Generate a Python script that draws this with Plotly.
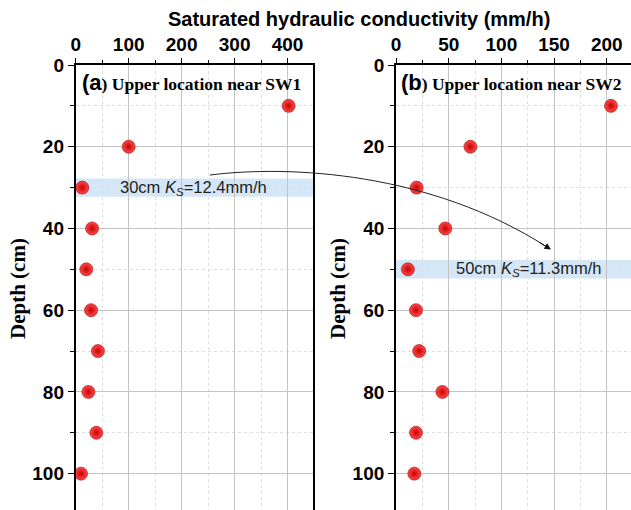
import plotly.graph_objects as go

# ---- data ----
depth = [10, 20, 30, 40, 50, 60, 70, 80, 90, 100]
ks_sw1 = [402, 100, 12.4, 31, 20, 29, 42, 24, 39, 10]
ks_sw2 = [204, 70.6, 19.6, 46.8, 11.3, 19, 22, 44, 19, 17.4]
x_ticks_sw1 = [0, 100, 200, 300, 400]
x_ticks_sw2 = [0, 50, 100, 150, 200]
y_ticks = [0, 20, 40, 60, 80, 100]
highlight_depth = [30, 50]
highlight_ks = [12.4, 11.3]
panel_labels = [("(a", ") Upper location near SW1"), ("(b", ") Upper location near SW2")]

W, H = 631, 510
def px(x, y):
    return x / W, 1 - y / H

SANS = "Liberation Sans, Arial, sans-serif"
SERIF = "Liberation Serif, Times New Roman, serif"

fig = go.Figure()

marker = dict(size=13, color="#ff4a4a", line=dict(color="#a00000", width=0.6),
              gradient=dict(type="radial", color="#c80000"))
fig.add_trace(go.Scatter(x=ks_sw1, y=depth, mode="markers", marker=marker,
                         xaxis="x", yaxis="y", showlegend=False))
fig.add_trace(go.Scatter(x=ks_sw2, y=depth, mode="markers", marker=marker,
                         xaxis="x2", yaxis="y2", showlegend=False))

ytop = 1 - 65 / H
dom1 = [75.7 / W, 313 / W]
dom2 = [396 / W, 1.0]

def xax(dom, rng, ticks, minor, anchor):
    return dict(domain=dom, range=rng, side="top", anchor=anchor,
                tickvals=ticks, ticks="outside", ticklen=5, tickwidth=1.2, tickcolor="black",
                showline=True, linecolor="black", linewidth=1.6, mirror=False,
                showgrid=True, gridcolor="#c4c4c4", gridwidth=1,
                tickfont=dict(family=SANS, size=19, color="black", weight="bold"),
                minor=dict(dtick=minor, ticks="outside", ticklen=3, tickcolor="black",
                           showgrid=True, gridcolor="#dedede", griddash="dot"),
                zeroline=False, automargin=False, fixedrange=True)

def yax(anchor):
    return dict(domain=[0, ytop], range=[108.9, 0], anchor=anchor,
                tickvals=y_ticks, ticks="outside", ticklen=6, tickwidth=1.2, tickcolor="black",
                showline=True, linecolor="black", linewidth=1.8, mirror=True,
                showgrid=True, gridcolor="#c4c4c4", gridwidth=1,
                tickfont=dict(family=SANS, size=19, color="black", weight="bold"),
                minor=dict(dtick=10, ticks="outside", ticklen=4, tickcolor="black",
                           showgrid=True, gridcolor="#dedede", griddash="dot"),
                zeroline=False, automargin=False, fixedrange=True)

fig.update_layout(
    width=W, height=H, margin=dict(l=0, r=0, t=0, b=0),
    paper_bgcolor="white", plot_bgcolor="white",
    xaxis=xax(dom1, [0, 448], x_ticks_sw1, 50, "y"),
    yaxis=yax("x"),
    xaxis2=xax(dom2, [0, 223], x_ticks_sw2, 25, "y2"),
    yaxis2=yax("x2"),
)

# highlight bands
for d, xr, yr in zip(highlight_depth, ["x", "x2"], ["y", "y2"]):
    fig.add_shape(type="rect", xref=f"{xr} domain", yref=yr, x0=0, x1=1,
                  y0=d - 2.25, y1=d + 2.25, fillcolor="#d5e7f7", line=dict(width=0),
                  layer="below")
tx = [222, 126]
for d, ks, xr, yr, x in zip(highlight_depth, highlight_ks, ["x", "x2"], ["y", "y2"], tx):
    fig.add_annotation(xref=xr, yref=yr, x=x, y=d, showarrow=False,
                       text=f"{d}cm <i>K<sub>S</sub></i>={ks}mm/h",
                       font=dict(family=SANS, size=16.5, color="#222"))

# panel labels
for (a, b), x0 in zip(panel_labels, [80, 399]):
    xx, yy = px(x0, 83)
    fig.add_annotation(xref="paper", yref="paper", x=xx, y=yy, xanchor="left", yanchor="middle",
                       showarrow=False,
                       text=f"<span style='font-family:Liberation Sans;font-size:22px'>{a}</span>{b}",
                       font=dict(family=SERIF, size=17.5, color="black", weight="bold"))

# axis titles
xx, yy = px(359, 19)
fig.add_annotation(xref="paper", yref="paper", x=xx, y=yy, xanchor="center", yanchor="middle",
                   showarrow=False,
                   text="<b>Saturated hydraulic conductivity (mm/h)</b>",
                   font=dict(family=SANS, size=20, color="black"))
for xc in [18, 338]:
    xx, yy = px(xc, 289)
    fig.add_annotation(xref="paper", yref="paper", x=xx, y=yy, xanchor="center", yanchor="middle",
                       showarrow=False, textangle=-90,
                       text="<b>Depth (cm)</b>",
                       font=dict(family=SERIF, size=21, color="black"))

# curved arrow
pts = [px(210, 175), px(290, 165), px(430, 172), px(547, 247)]
path = "M {} {} C {} {}, {} {}, {} {}".format(*[v for p in pts for v in p])
fig.add_shape(type="path", xref="paper", yref="paper", path=path,
              line=dict(color="#222", width=1), layer="above")
ex, ey = px(551, 249.5)
fig.add_annotation(xref="paper", yref="paper", x=ex, y=ey, ax=-13, ay=-8,
                   showarrow=True, arrowhead=2, arrowsize=1.3, arrowwidth=1, arrowcolor="#111", text="")

fig.write_html("out.html")
